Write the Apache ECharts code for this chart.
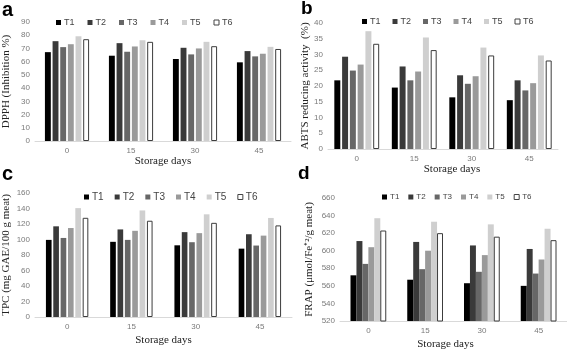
<!DOCTYPE html>
<html>
<head>
<meta charset="utf-8">
<script src="https://cdn.jsdelivr.net/npm/echarts@6/dist/echarts.min.js"></script>
<style>
  html, body { margin: 0; padding: 0; background: #fff; }
  #main { width: 567px; height: 352px; }
</style>
</head>
<body>
<div id="main"></div>
<script>
var days = ['0', '15', '30', '45'];
var treatments = ['T1', 'T2', 'T3', 'T4', 'T5', 'T6'];
var shades = ['#000000', '#3a3a3a', '#676767', '#9a9a9a', '#cfcfcf', '#ffffff'];

// a: DPPH (Inhibition %), one array per treatment over storage days
var dpph = [
    [67.2, 64.5, 62.0, 59.5],
    [75.5, 74.0, 70.5, 68.0],
    [71.0, 67.5, 65.5, 64.0],
    [73.2, 71.5, 70.0, 66.0],
    [79.2, 76.2, 75.0, 71.2],
    [77.0, 75.0, 71.7, 69.6]
];
// b: ABTS reducing activity (%)
var abts = [
    [21.8, 19.5, 16.4, 15.5],
    [29.3, 26.2, 23.4, 21.8],
    [24.9, 21.8, 20.7, 18.6],
    [26.8, 24.6, 23.1, 20.9],
    [37.4, 35.4, 32.2, 29.7],
    [33.4, 31.4, 29.7, 28.1]
];
// c: TPC (mg GAE/100 g meat)
var tpc = [
    [99.5, 97.0, 92.5, 88.2],
    [117.0, 113.0, 109.5, 106.8],
    [102.0, 99.5, 96.5, 92.2],
    [114.8, 111.2, 108.2, 105.0],
    [140.5, 137.5, 132.5, 127.8],
    [128.0, 124.2, 121.5, 118.2]
];
// d: FRAP (umol/Fe+2/g meat)
var frap = [
    [572, 567, 563, 560],
    [611, 610, 606, 602],
    [585, 579, 576, 574],
    [604, 600, 595, 590],
    [637, 633, 630, 625],
    [623, 620, 616, 612]
];

var panels = [
    { data: dpph, grid: { left: 30, top: 22, width: 261, height: 119 }, min: 0, max: 90, interval: 10,
      yName: 'DPPH (Inhibition %)', yGap: 23, xGap: 13, xPad: [0, 0, 0, 0], catGap: '31%', barGap: '30%',
      legend: { left: 51, top: 13, gap: 13, size: 9 } },
    { data: abts, grid: { left: 328, top: 23, width: 230, height: 126 }, min: 0, max: 40, interval: 5,
      yName: 'ABTS reducing activity  (%)', yGap: 17, xGap: 12, xPad: [0, 0, 0, 18], catGap: '22%', barGap: '30%',
      legend: { left: 357, top: 12, gap: 12, size: 9 } },
    { data: tpc, grid: { left: 31, top: 193, width: 261, height: 124 }, min: 0, max: 160, interval: 20,
      yName: 'TPC (mg GAE/100 g meat)', yGap: 23, xGap: 18, xPad: [0, 0, 0, 0], catGap: '34%', barGap: '30%',
      legend: { left: 79, top: 187, gap: 11, size: 10 } },
    { data: frap, grid: { left: 340, top: 198, width: 227, height: 123 }, min: 520, max: 660, interval: 20,
      yName: 'FRAP (\u03bcmol/Fe\u207a\u00b2/g meat)', yGap: 25, xGap: 18, xPad: [0, 16, 0, 0], catGap: '37%', barGap: '0%',
      legend: { left: 377, top: 188, gap: 9, size: 8 } }
];

var option = {
    animation: false,
    backgroundColor: '#fff',
    grid: [],
    xAxis: [],
    yAxis: [],
    legend: [],
    series: [],
    graphic: [
        { type: 'text', left: 2, top: 0, style: { text: 'a', font: 'bold 20px "Liberation Sans"', fill: '#000' } },
        { type: 'text', left: 301, top: -1, style: { text: 'b', font: 'bold 19px "Liberation Sans"', fill: '#000' } },
        { type: 'text', left: 2, top: 164, style: { text: 'c', font: 'bold 20px "Liberation Sans"', fill: '#000' } },
        { type: 'text', left: 298, top: 164, style: { text: 'd', font: 'bold 19px "Liberation Sans"', fill: '#000' } }
    ]
};

panels.forEach(function (p, i) {
    option.grid.push(p.grid);
    option.xAxis.push({
        type: 'category',
        gridIndex: i,
        data: days,
        name: 'Storage days',
        nameLocation: 'middle',
        nameGap: p.xGap,
        nameTextStyle: { fontFamily: 'Liberation Serif', fontSize: 11, color: '#222', padding: p.xPad },
        axisLine: { lineStyle: { color: '#d9d9d9', width: 1 } },
        axisTick: { show: false },
        axisLabel: { fontFamily: 'Liberation Sans', fontSize: 8, color: '#7a7a7a', margin: 6 }
    });
    option.yAxis.push({
        type: 'value',
        gridIndex: i,
        min: p.min,
        max: p.max,
        interval: p.interval,
        name: p.yName,
        nameLocation: 'middle',
        nameGap: p.yGap,
        nameTextStyle: { fontFamily: 'Liberation Serif', fontSize: 11, color: '#222' },
        axisLine: { show: false },
        axisTick: { show: false },
        splitLine: { show: false },
        axisLabel: { fontFamily: 'Liberation Sans', fontSize: 8, color: '#7a7a7a', margin: 5 }
    });
    option.legend.push({
        left: p.legend.left,
        top: p.legend.top,
        itemWidth: 5,
        itemHeight: 5,
        itemGap: p.legend.gap,
        icon: 'rect',
        textStyle: { fontFamily: 'Liberation Sans', fontSize: p.legend.size, color: '#444', padding: [0, 0, 0, -2] },
        data: treatments.map(function (t, k) {
            if (k === 5) {
                return { name: t, itemStyle: { color: '#fff', borderColor: '#444', borderWidth: 1 } };
            }
            return t;
        })
    });
    treatments.forEach(function (t, k) {
        option.series.push({
            name: t,
            type: 'bar',
            xAxisIndex: i,
            yAxisIndex: i,
            data: p.data[k],
            barGap: p.barGap,
            barCategoryGap: p.catGap,
            itemStyle: k === 5
                ? { color: shades[k], borderColor: '#3c3c3c', borderWidth: 1 }
                : { color: shades[k] }
        });
    });
});

var myChart = echarts.init(document.getElementById('main'));
myChart.setOption(option);
</script>
</body>
</html>
